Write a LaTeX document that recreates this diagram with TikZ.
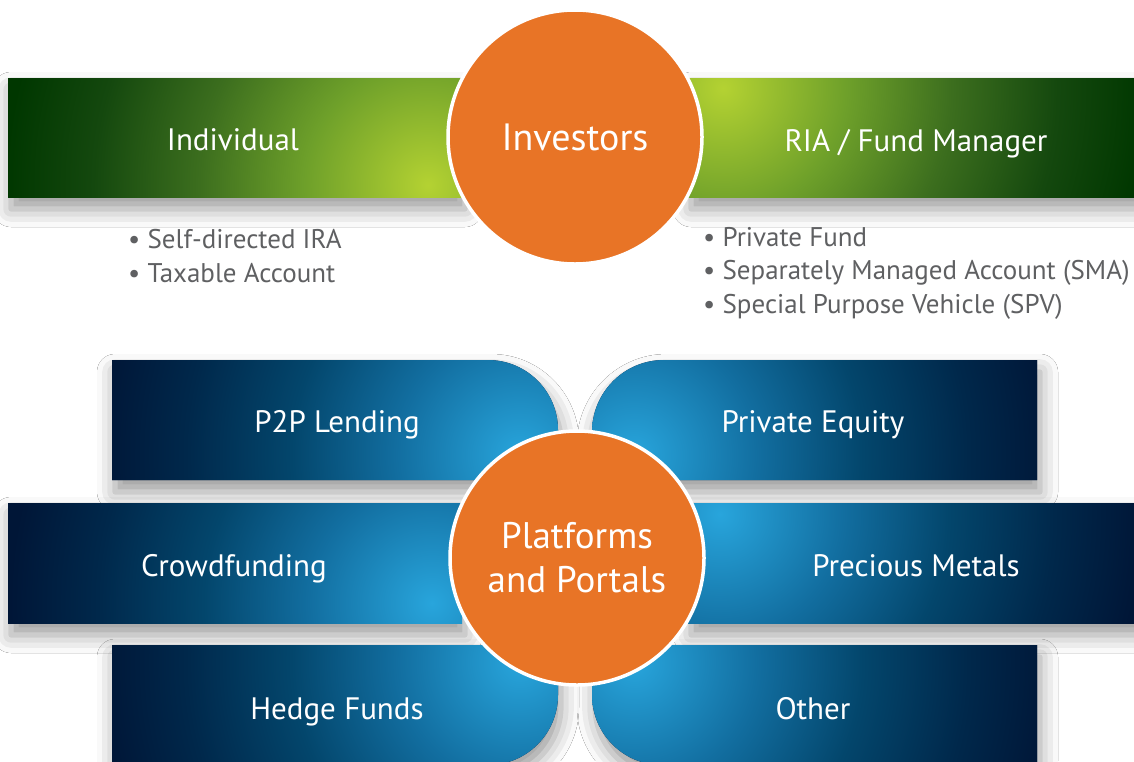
\documentclass[tikz,border=0pt]{standalone}
\usepackage{fontspec}
\setmainfont{PT Sans}
\usetikzlibrary{shadows.blur}

\definecolor{gA}{RGB}{180,210,50}
\definecolor{gB}{RGB}{110,160,42}
\definecolor{gC}{RGB}{60,110,30}
\definecolor{gD}{RGB}{20,72,14}
\definecolor{gdark}{RGB}{0,55,0}
\definecolor{bA}{RGB}{40,165,220}
\definecolor{bB}{RGB}{18,110,160}
\definecolor{bC}{RGB}{3,70,108}
\definecolor{bD}{RGB}{0,40,75}
\definecolor{bdark}{RGB}{0,22,55}
\definecolor{hub}{HTML}{E87426}
\definecolor{notetext}{HTML}{5F6062}

% radial glows; 25bp is the rim of the shaded circle
\pgfdeclareradialshading{greenglow}{\pgfpoint{0bp}{0bp}}{color(0bp)=(gA); color(7bp)=(gB); color(13bp)=(gC); color(19bp)=(gD); color(24bp)=(gdark); color(50bp)=(gdark)}
\pgfdeclareradialshading{blueglow}{\pgfpoint{0bp}{0bp}}{color(0bp)=(bA); color(7bp)=(bB); color(13bp)=(bC); color(19bp)=(bD); color(24bp)=(bdark); color(50bp)=(bdark)}

% #1 outline, #2 centre of the glow, #3 shading, #4 base colour
\newcommand\glowpanel[4]{%
  \fill[panelshadow, #4] #1;
  \begin{scope}
    \clip #1;
    \shade[shading=#3] #2 circle (440pt);
  \end{scope}}

\begin{document}
\begin{tikzpicture}[x=1pt,y=-1pt,
  panelshadow/.style={blur shadow={shadow xshift=3pt, shadow yshift=-12pt,
      shadow blur radius=18pt, shadow opacity=40}},
  panellabel/.style={anchor=base, text=white, font=\fontsize{31}{36}\selectfont, inner sep=0pt},
  hubcircle/.style={circle, fill=hub, draw=white, line width=3.5pt,
      minimum size=254pt, inner sep=0pt, text=white, align=center},
  note/.style={anchor=west, text=notetext, font=\fontsize{27}{33.5}\selectfont,
      inner sep=0pt, align=left}]
\useasboundingbox (0,0) rectangle (1134,761);
\fill[white] (0,0) rectangle (1134,761);

% investor bars
\glowpanel{(8,78) rectangle (462,197)}{(428,185)}{greenglow}{gdark}
\glowpanel{(688,78) rectangle (1150,197)}{(723,88)}{greenglow}{gdark}

% platform panels, top row
\glowpanel{(112,360) -- (488,360) arc[start angle=90,end angle=0,radius=70pt] -- (558,480) -- (112,480) -- cycle}{(520,455)}{blueglow}{bdark}
\glowpanel{(1037,360) -- (664,360) arc[start angle=90,end angle=180,radius=72pt] -- (592,480) -- (1037,480) -- cycle}{(634,455)}{blueglow}{bdark}
% middle row
\glowpanel{(8,503) rectangle (462,623)}{(432,603)}{blueglow}{bdark}
\glowpanel{(688,503) rectangle (1150,623)}{(720,514)}{blueglow}{bdark}
% bottom row
\glowpanel{(112,645) -- (558,645) -- (558,695) arc[start angle=0,end angle=-90,radius=70pt] -- (112,765) -- cycle}{(520,662)}{blueglow}{bdark}
\glowpanel{(1037,645) -- (592,645) -- (592,695) arc[start angle=180,end angle=270,radius=70pt] -- (1037,765) -- cycle}{(634,662)}{blueglow}{bdark}

% labels (placed on their baselines)
\node[panellabel] (individual) at (233,150) {Individual};
\node[panellabel] (ria) at (916,151) {RIA / Fund Manager};
\node[panellabel] (p2p) at (337,432) {P2P Lending};
\node[panellabel] (equity) at (813,432) {Private Equity};
\node[panellabel] (crowd) at (234,576) {Crowdfunding};
\node[panellabel] (metals) at (916,576) {Precious Metals};
\node[panellabel] (hedge) at (337,719) {Hedge Funds};
\node[panellabel] (other) at (813,719) {Other};

% account types
\node[note] (indivnotes) at (128,256) {• Self-directed IRA\\• Taxable Account};
\node[note] (rianotes) at (703,273) {• Private Fund\\• Separately Managed Account (SMA)\\• Special Purpose Vehicle (SPV)};

% hubs
\node[hubcircle, font=\fontsize{38}{44}\selectfont] (investors) at (575,137) {Investors};
\node[hubcircle, font=\fontsize{37}{44}\selectfont] (platforms) at (577,558) {Platforms\\and Portals};
\end{tikzpicture}
\end{document}
